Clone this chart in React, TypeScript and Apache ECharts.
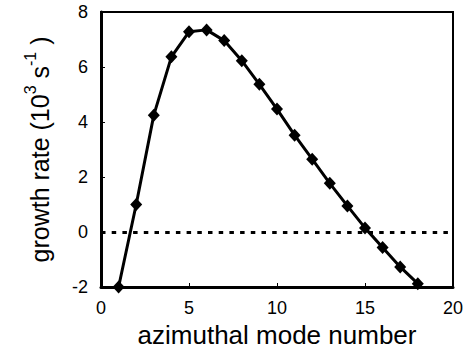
import React, { useEffect, useRef } from "react";
import * as echarts from "echarts";

// azimuthal mode number vs growth rate (10^3 s^-1)
const modes = [1, 2, 3, 4, 5, 6, 7, 8, 9, 10, 11, 12, 13, 14, 15, 16, 17, 18];
const growthRate = [-2.0, 1.0, 4.25, 6.37, 7.28, 7.35, 6.96, 6.23, 5.37, 4.47, 3.52, 2.65, 1.77, 0.95, 0.15, -0.56, -1.27, -1.88];
const xTicks = [0, 5, 10, 15, 20];
const yTicks = [-2, 0, 2, 4, 6, 8];

const FONT = "Liberation Sans, Arial, sans-serif";

export default function App() {
  const ref = useRef<HTMLDivElement>(null);

  useEffect(() => {
    if (!ref.current) return;
    const chart = echarts.init(ref.current, undefined, { renderer: "svg" });
    chart.setOption({
      animation: false,
      backgroundColor: "#ffffff",
      grid: {
        left: 101,
        top: 12,
        right: 15,
        bottom: 62,
        outerBoundsMode: "none",
        show: true,
        borderColor: "#000",
        borderWidth: 2,
      },
      xAxis: {
        type: "value",
        min: xTicks[0],
        max: xTicks[xTicks.length - 1],
        interval: 5,
        name: "azimuthal mode number",
        nameLocation: "middle",
        nameGap: 34,
        nameTextStyle: { fontFamily: FONT, fontSize: 26, lineHeight: 26, color: "#000" },
        axisLine: { show: true, onZero: false, lineStyle: { color: "#000", width: 3 } },
        axisTick: { show: true, inside: true, length: 4, lineStyle: { color: "#000", width: 1 } },
        axisLabel: { fontFamily: FONT, fontSize: 18, color: "#000", margin: 12 },
        splitLine: { show: false },
      },
      yAxis: {
        type: "value",
        min: yTicks[0],
        max: yTicks[yTicks.length - 1],
        interval: 2,
        name: "{a|growth rate (10}{s|3}{a| s}{s|-1}{a| )}",
        nameLocation: "middle",
        nameGap: 49,
        nameTextStyle: {
          fontFamily: FONT,
          fontSize: 25,
          color: "#000",
          rich: {
            a: { fontFamily: FONT, fontSize: 25, color: "#000", lineHeight: 30, verticalAlign: "bottom" },
            s: { fontFamily: FONT, fontSize: 16, color: "#000", lineHeight: 30, verticalAlign: "top" },
          },
        },
        axisLine: { show: true, onZero: false, lineStyle: { color: "#000", width: 3 } },
        axisTick: { show: true, inside: true, length: 4, lineStyle: { color: "#000", width: 1 } },
        axisLabel: { fontFamily: FONT, fontSize: 18, color: "#000", margin: 13 },
        splitLine: { show: false },
      },
      series: [
        {
          type: "line",
          data: modes.map((m, i) => [m, growthRate[i]]),
          symbol: "diamond",
          symbolSize: [12, 13],
          lineStyle: { color: "#000", width: 3 },
          itemStyle: { color: "#000" },
          z: 3,
          markLine: {
            silent: true,
            symbol: "none",
            label: { show: false },
            lineStyle: { color: "#000", width: 3, type: [4.5, 6.2] },
            data: [{ yAxis: 0 }],
          },
        },
      ],
    });
    return () => chart.dispose();
  }, []);

  return <div ref={ref} style={{ width: 468, height: 349, position: "absolute", left: 0, top: 0 }} />;
}
